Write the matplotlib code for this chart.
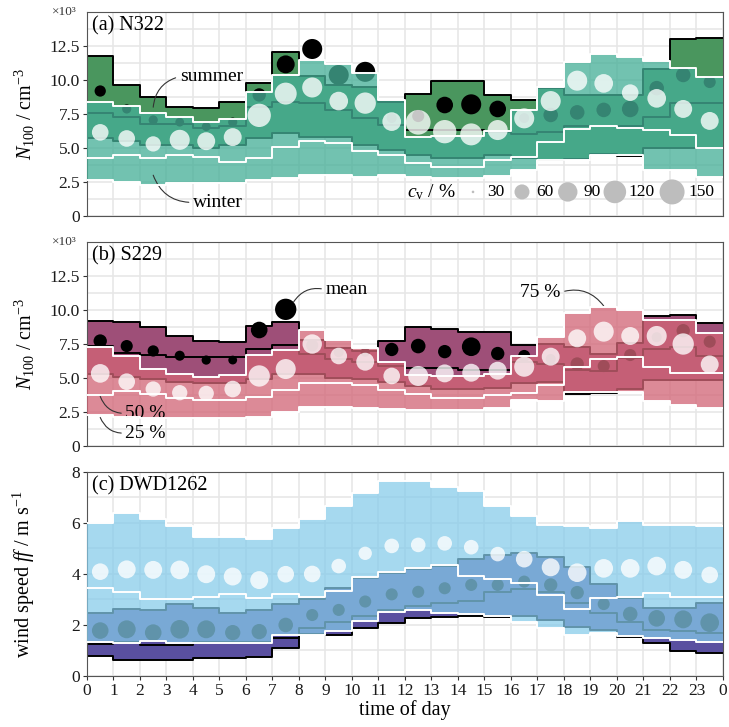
import numpy as np
import matplotlib.pyplot as plt

plt.rcParams['font.family'] = ['Liberation Serif', 'DejaVu Serif']
plt.rcParams['mathtext.fontset'] = 'custom'
plt.rcParams['mathtext.rm'] = 'Liberation Serif'
plt.rcParams['mathtext.it'] = 'Liberation Serif:italic'

hours = np.arange(24)

# (a) N322, N100 in 10^3 cm^-3
a_s_q25 = [5.76, 5.5, 5.2, 5.2, 5.0, 5.2, 5.76, 6.08, 5.8, 5.8, 5.2, 4.85, 4.5, 4.3, 4.3, 4.5, 4.24, 4.15, 4.2, 4.55, 4.4, 4.98, 4.98, 4.98]
a_s_q50 = [7.6, 7.3, 6.75, 6.75, 6.5, 6.6, 8.0, 8.4, 8.3, 7.8, 7.2, 6.7, 6.3, 6.3, 6.3, 6.2, 6.0, 6.2, 6.6, 6.6, 6.6, 7.3, 8.3, 8.3]
a_s_q75 = [11.8, 9.63, 8.77, 8.04, 7.97, 8.4, 9.8, 12.05, 10.3, 9.6, 9.5, 8.4, 8.95, 9.95, 9.95, 8.9, 8.5, 9.4, 8.9, 8.9, 8.9, 10.8, 13.0, 13.1]
a_s_mean = [9.19, 7.87, 7.06, 6.9, 6.57, 6.9, 8.9, 11.15, 12.28, 10.37, 10.6, 7.2, 7.35, 8.16, 8.21, 7.87, 7.2, 7.43, 7.62, 7.8, 7.87, 9.4, 10.37, 9.85]
a_s_cv = [51, 46, 46, 45, 45, 46, 56, 80, 96, 96, 96, 48, 53, 71, 96, 71, 48, 59, 59, 59, 71, 59, 59, 53]
a_w_q25 = [2.65, 2.52, 2.3, 2.4, 2.4, 2.4, 2.65, 2.82, 3.0, 3.0, 2.84, 3.0, 2.9, 2.8, 2.8, 2.95, 3.38, 4.1, 4.1, 4.5, 4.5, 3.4, 3.4, 2.9]
a_w_q50 = [4.3, 4.45, 4.3, 4.5, 4.35, 3.95, 4.3, 5.1, 5.5, 5.34, 4.8, 4.49, 3.87, 3.63, 3.63, 4.12, 4.36, 5.47, 6.37, 6.64, 6.5, 6.32, 5.96, 4.98]
a_w_q75 = [8.4, 8.09, 7.55, 7.3, 6.9, 7.15, 9.1, 10.37, 11.5, 11.2, 10.5, 8.55, 5.83, 5.9, 5.9, 6.25, 7.8, 9.5, 11.3, 11.9, 11.7, 11.4, 10.86, 10.25]
a_w_mean = [6.15, 5.7, 5.3, 5.6, 5.5, 5.8, 7.4, 9.0, 9.45, 8.45, 8.3, 6.94, 6.89, 6.2, 6.0, 6.32, 7.18, 8.45, 9.95, 9.75, 9.07, 8.65, 7.87, 6.99]
a_w_cv = [71, 71, 62, 96, 80, 80, 129, 114, 96, 85, 108, 85, 146, 129, 114, 96, 96, 96, 96, 85, 71, 85, 80, 80]

# (b) S229
b_s_q25 = [5.3, 5.1, 4.9, 4.7, 4.6, 4.6, 4.9, 5.3, 5.3, 5.0, 4.9, 4.7, 4.4, 4.2, 4.2, 4.3, 4.6, 4.7, 3.85, 3.88, 4.2, 4.85, 4.85, 4.85]
b_s_q50 = [7.35, 6.86, 6.69, 6.52, 6.52, 6.55, 7.13, 7.43, 6.8, 6.4, 6.2, 5.9, 5.7, 5.7, 5.6, 5.6, 6.2, 6.0, 5.6, 5.5, 6.5, 7.1, 7.3, 6.6]
b_s_q75 = [9.2, 9.14, 8.73, 8.11, 7.75, 7.67, 8.82, 9.14, 7.8, 7.2, 7.0, 7.75, 8.73, 8.6, 8.4, 8.35, 7.43, 7.5, 7.3, 6.8, 7.6, 9.56, 9.63, 9.02]
b_s_mean = [7.72, 7.35, 6.99, 6.64, 6.32, 6.32, 8.53, 10.05, 7.4, 6.9, 6.9, 7.1, 7.35, 6.94, 7.3, 6.8, 6.62, 6.4, 6.03, 5.88, 6.69, 8.0, 8.48, 7.67]
b_s_cv = [56, 53, 51, 48, 46, 45, 71, 108, 53, 48, 46, 56, 59, 56, 85, 56, 53, 48, 56, 53, 53, 48, 56, 53]
b_w_q25 = [2.28, 2.16, 2.03, 2.03, 2.03, 2.03, 2.16, 2.52, 2.89, 2.89, 2.77, 2.7, 2.65, 2.65, 2.65, 2.77, 3.4, 3.3, 3.95, 3.95, 3.95, 3.3, 3.0, 2.8]
b_w_q50 = [3.75, 4.07, 3.8, 3.5, 3.38, 3.38, 3.63, 4.12, 4.6, 4.66, 4.49, 4.12, 3.82, 3.5, 3.5, 3.75, 3.87, 4.49, 5.83, 6.37, 6.52, 5.83, 5.34, 5.34]
b_w_q75 = [7.25, 6.62, 5.66, 5.29, 5.05, 5.2, 6.69, 7.06, 8.53, 7.79, 7.18, 6.2, 5.22, 5.15, 5.15, 5.29, 6.6, 8.04, 9.8, 10.25, 10.0, 9.26, 9.3, 8.28]
b_w_mean = [5.34, 4.73, 4.19, 3.92, 3.87, 4.19, 5.15, 5.66, 7.5, 6.62, 6.2, 5.15, 5.15, 5.34, 5.39, 5.54, 5.83, 6.57, 7.92, 8.41, 8.09, 8.09, 7.5, 6.0]
b_w_cv = [85, 71, 62, 62, 62, 71, 108, 96, 90, 71, 80, 71, 96, 80, 80, 80, 96, 80, 80, 96, 80, 96, 108, 80]

# (c) DWD1262, wind speed in m/s
c_s_q25 = [0.78, 0.63, 0.63, 0.63, 0.69, 0.69, 0.73, 1.08, 1.65, 1.61, 1.87, 2.06, 2.26, 2.33, 2.35, 2.33, 2.35, 2.2, 1.93, 1.8, 1.54, 1.31, 0.99, 0.92]
c_s_q50 = [1.24, 1.35, 1.2, 1.2, 1.35, 1.35, 1.35, 1.5, 1.9, 2.1, 2.35, 2.6, 2.75, 2.85, 2.95, 3.3, 3.4, 3.3, 2.85, 2.45, 2.1, 1.8, 1.75, 1.7]
c_s_q75 = [2.48, 2.63, 2.59, 2.82, 2.65, 2.46, 2.59, 2.82, 3.0, 3.44, 3.83, 4.05, 4.2, 4.33, 4.6, 4.75, 4.84, 4.65, 4.26, 3.61, 3.05, 2.65, 2.65, 2.85]
c_s_mean = [1.78, 1.83, 1.7, 1.83, 1.83, 1.7, 1.74, 2.0, 2.39, 2.59, 2.92, 3.2, 3.3, 3.44, 3.57, 3.57, 3.7, 3.57, 3.27, 2.82, 2.43, 2.26, 2.22, 2.09]
c_s_cv = [71, 80, 71, 85, 80, 62, 62, 59, 53, 53, 53, 53, 53, 53, 53, 53, 53, 56, 56, 53, 59, 71, 80, 85]
c_w_q25 = [1.33, 1.3, 1.38, 1.3, 1.3, 1.3, 1.3, 1.6, 1.6, 1.78, 2.15, 2.52, 2.59, 2.48, 2.42, 2.37, 2.13, 1.87, 1.61, 1.67, 1.56, 1.48, 1.41, 1.35]
c_w_q50 = [3.46, 3.31, 3.01, 3.01, 3.11, 3.22, 3.05, 3.22, 3.11, 3.35, 3.9, 4.09, 4.22, 4.35, 3.92, 3.79, 3.63, 3.18, 2.61, 3.05, 3.11, 3.24, 3.11, 3.11]
c_w_q75 = [6.01, 6.4, 6.14, 5.88, 5.46, 5.46, 5.39, 5.79, 6.14, 6.67, 7.16, 7.66, 7.66, 7.42, 7.27, 6.67, 6.27, 5.92, 5.88, 5.79, 6.08, 5.92, 5.92, 5.88]
c_w_mean = [4.09, 4.18, 4.16, 4.16, 3.99, 3.9, 3.76, 3.99, 4.0, 4.31, 4.81, 5.1, 5.14, 5.2, 5.05, 4.78, 4.58, 4.26, 4.05, 4.22, 4.22, 4.31, 4.16, 3.96]
c_w_cv = [71, 80, 80, 85, 80, 80, 80, 71, 71, 59, 56, 59, 59, 59, 59, 59, 71, 80, 85, 85, 85, 85, 80, 71]

cv_keys = [30, 60, 90, 120, 150]
cv_radius_px = [1.3, 7.5, 9.7, 11.3, 12.5]


def dot_size(cv):
    r = np.interp(cv, cv_keys, cv_radius_px) * 0.72
    return (2 * r) ** 2


def stepv(v):
    return np.append(v, v[-1])


def draw_season(ax, q25, q50, q75, mean, cv, fill, alpha, line, dot, dot_alpha, z):
    x = np.arange(25)
    ax.fill_between(x, stepv(q25), stepv(q75), step='post', color=fill, alpha=alpha, lw=0, zorder=z)
    for q in (q25, q50, q75):
        ax.step(x, stepv(q), where='post', color=line, lw=1.4, zorder=z + 0.1)
    ax.scatter(hours + 0.5, mean, s=dot_size(cv), color=dot, alpha=dot_alpha, lw=0, zorder=z + 0.2)


fig = plt.figure(figsize=(7.29, 7.27), dpi=100)
ax_a = fig.add_axes([0.1193, 0.7029, 0.8724, 0.2806])
ax_b = fig.add_axes([0.1193, 0.3865, 0.8724, 0.2806])
ax_c = fig.add_axes([0.1193, 0.0702, 0.8724, 0.2806])

draw_season(ax_a, a_s_q25, a_s_q50, a_s_q75, a_s_mean, a_s_cv, '#4a965e', 1.0, 'black', 'black', 1.0, 2)
draw_season(ax_a, a_w_q25, a_w_q50, a_w_q75, a_w_mean, a_w_cv, '#46af97', 0.76, 'white', 'white', 0.78, 3)
draw_season(ax_b, b_s_q25, b_s_q50, b_s_q75, b_s_mean, b_s_cv, '#9e4f78', 1.0, 'black', 'black', 1.0, 2)
draw_season(ax_b, b_w_q25, b_w_q50, b_w_q75, b_w_mean, b_w_cv, '#d26576', 0.76, 'white', 'white', 0.78, 3)
draw_season(ax_c, c_s_q25, c_s_q50, c_s_q75, c_s_mean, c_s_cv, '#5a50a0', 1.0, 'black', 'black', 1.0, 2)
draw_season(ax_c, c_w_q25, c_w_q50, c_w_q75, c_w_mean, c_w_cv, '#85cbea', 0.73, 'white', 'white', 0.78, 3)

for ax in (ax_a, ax_b, ax_c):
    ax.set_xlim(0, 24)
    ax.set_xticks(range(25))
    ax.set_axisbelow(True)
    ax.grid(True, which='both', color='#e6e6e6', lw=1.1, zorder=0)
    ax.tick_params(which='minor', length=0)
    ax.tick_params(axis='y', direction='out', length=3, width=0.8, color='#333333',
                   labelsize=12.5, labelcolor='#1a1a1a', pad=2)
    for sp in ax.spines.values():
        sp.set_color('#555555')
        sp.set_linewidth(0.8)

for ax, name in ((ax_a, '(a) N322'), (ax_b, '(b) S229')):
    ax.set_ylim(0, 15)
    ax.set_yticks([0, 2.5, 5, 7.5, 10, 12.5])
    ax.set_yticklabels(['0', '2.5', '5.0', '7.5', '10.0', '12.5'])
    ax.set_yticks(np.arange(1.25, 15, 2.5), minor=True)
    ax.tick_params(axis='x', length=0, labelbottom=False)
    ax.set_ylabel(r'$N_{100}$ / cm$^{-3}$', fontsize=14.5)
    ax.yaxis.set_label_coords(-0.078, 0.5)
    ax.text(-0.016, 1.0, '×10³', transform=ax.transAxes, ha='right', va='center', fontsize=9.5, color='#333333')
    ax.text(0.008, 0.93, name, transform=ax.transAxes, ha='left', va='center', fontsize=14.5)

ax_c.set_ylim(0, 8)
ax_c.set_yticks([0, 2, 4, 6, 8])
ax_c.set_yticks([1, 3, 5, 7], minor=True)
ax_c.set_xticklabels([str(h % 24) for h in range(25)])
ax_c.tick_params(axis='x', direction='out', length=3, width=0.8, color='#333333',
                 labelsize=12.5, labelcolor='#1a1a1a', pad=2)
ax_c.set_ylabel(r'wind speed $\mathit{ff}$ / m s$^{-1}$', fontsize=14.5)
ax_c.yaxis.set_label_coords(-0.078, 0.5)
ax_c.set_xlabel('time of day', fontsize=14.5, labelpad=1)
ax_c.text(0.008, 0.93, '(c) DWD1262', transform=ax_c.transAxes, ha='left', va='center', fontsize=14.5)

# annotations
line_kw = dict(arrowstyle='-', color='#333333', lw=0.8, shrinkA=1, shrinkB=0)
ax_a.annotate('summer', xy=(2.5, 8.0), xytext=(3.5, 10.25), ha='left', va='center', fontsize=14,
              arrowprops=dict(relpos=(0, 0.5), connectionstyle='arc3,rad=0.35', **line_kw))
ax_a.annotate('winter', xy=(2.5, 3.0), xytext=(4.0, 1.0), ha='left', va='center', fontsize=14,
              arrowprops=dict(relpos=(0, 0.5), connectionstyle='arc3,rad=-0.35', **line_kw))
ax_b.annotate('mean', xy=(7.8, 10.6), xytext=(9.0, 11.5), ha='left', va='center', fontsize=14,
              arrowprops=dict(relpos=(0, 0.5), connectionstyle='arc3,rad=0.35', **line_kw))
ax_b.annotate('50 %', xy=(0.5, 3.65), xytext=(1.45, 2.4), ha='left', va='center', fontsize=14,
              arrowprops=dict(relpos=(0, 0.5), connectionstyle='arc3,rad=-0.35', **line_kw))
ax_b.annotate('25 %', xy=(0.5, 2.1), xytext=(1.45, 0.95), ha='left', va='center', fontsize=14,
              arrowprops=dict(relpos=(0, 0.5), connectionstyle='arc3,rad=-0.35', **line_kw))
ax_b.annotate('75 %', xy=(19.5, 10.3), xytext=(16.35, 11.3), ha='left', va='center', fontsize=14,
              arrowprops=dict(relpos=(1, 0.5), connectionstyle='arc3,rad=-0.35', **line_kw))

# cv size legend
ax_a.text(0.503, 0.118, r'$c_\mathrm{v}$ / %', transform=ax_a.transAxes, ha='left', va='center', fontsize=14)
key_x = [0.607, 0.684, 0.756, 0.830, 0.920]
label_x = [0.630, 0.706, 0.780, 0.852, 0.945]
ax_a.scatter(key_x, [0.118] * len(cv_keys), s=dot_size(np.array(cv_keys)), color='#bdbdbd',
             lw=0, transform=ax_a.transAxes, zorder=5, clip_on=False)
for lx, k in zip(label_x, cv_keys):
    ax_a.text(lx, 0.118, str(k), transform=ax_a.transAxes, ha='left', va='center', fontsize=12.5)

fig.savefig('out.png', dpi=100)
